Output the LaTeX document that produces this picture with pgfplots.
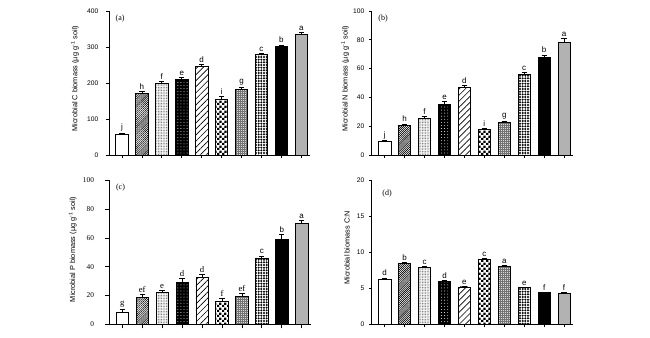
\documentclass[border=0pt]{standalone}
\usepackage{pgfplots}
\pgfplotsset{compat=1.18}
\usepackage{pgfplotstable}
\usepackage{fontspec}
\setmainfont{Liberation Sans}
\newfontfamily\tnr{Liberation Serif}
\usetikzlibrary{patterns,patterns.meta}

\pgfdeclarepattern{name=fcheck, type=uncolored, bottom left={\pgfpoint{0pt}{0pt}}, top right={\pgfpoint{3.8pt}{3.8pt}}, tile size={\pgfpoint{3.8pt}{3.8pt}},
 code={\pgfpathrectangle{\pgfpointorigin}{\pgfpoint{1.9pt}{1.9pt}}\pgfpathrectangle{\pgfpoint{1.9pt}{1.9pt}}{\pgfpoint{1.9pt}{1.9pt}}\pgfusepath{fill}}}

\tikzset{
 sA/.style={draw=black,fill=white},
 sB/.style={draw=black,pattern={Lines[angle=45,distance=1.1pt,line width=0.45pt]}},
 sC/.style={draw=black,pattern={Dots[distance=1.2pt,radius=0.38pt]},pattern color=gray!90!black},
 sD/.style={draw=black,fill=black,postaction={pattern={Dots[distance=2.3pt,radius=0.35pt]},pattern color=white}},
 sE/.style={draw=black,pattern={Lines[angle=45,distance=3.2pt,line width=0.5pt]}},
 sF/.style={draw=black,pattern=fcheck},
 sG/.style={draw=black,fill=gray!30,postaction={pattern={Hatch[distance=1.5pt,line width=0.3pt]},pattern color=gray!90!black}},
 sH/.style={draw=black,pattern={Dots[distance=2pt,radius=0.82pt]}},
 sI/.style={draw=black,fill=black},
 sJ/.style={draw=black,fill=gray!60},
}

\pgfplotsset{
 panel/.style={scale only axis, width=151pt, height=108pt,
  axis lines*=left, xmin=-0.65, xmax=9.45, ymin=0,
  xtick={0,...,9}, xticklabels={}, tick align=outside, major tick length=2pt,
  ybar, bar width=0.62, bar shift=0pt,
  error bars/y dir=plus, error bars/y explicit,
  error bars/error mark options={rotate=90,mark size=2pt,line width=0.5pt},
  error bars/error bar style={line width=0.5pt},
  tick label style={font=\fontsize{5}{6}\selectfont},
  label style={font=\fontsize{5.5}{6.5}\selectfont},
  axis line style={line width=0.6pt},
  every tick/.style={black,line width=0.5pt},
  every axis plot/.append style={line width=0.5pt},
  clip=false, /pgf/number format/assume math mode=true,
  ylabel style={anchor=center},
 },
 lab/.style={sharp plot, draw=none, mark=none, nodes near coords, point meta=explicit symbolic,
   nodes near coords style={font=\fontsize{6}{7}\selectfont, anchor=south, inner sep=1.2pt}},
}
\newcommand\bb[4]{\addplot[#1] coordinates {(#2,#3) +- (0,#4)};}

\pgfplotstableread{
x y e l
0 57 3 j
1 171 5 h
2 199 6 f
3 209 6 e
4 245 6 d
5 155 8 i
6 183 6 g
7 279 4 c
8 301 5 b
9 336 4 a
}\tA
\pgfplotstableread{
x y e l
0 9.4 0.6 j
1 20.6 1 h
2 25.6 1.5 f
3 35.3 2 e
4 47 1.3 d
5 17.6 1 i
6 22.6 1 g
7 56 1.5 c
8 67.5 2 b
9 78.3 2.5 a
}\tB
\pgfplotstableread{
x y e l
0 8.6 1.6 g
1 18.8 2 ef
2 22.3 1 e
3 29.2 2.5 d
4 32.7 2 d
5 15.8 2 f
6 19.3 2.2 ef
7 45.7 1.8 c
8 59.2 3 b
9 69.8 2.5 a
}\tC
\pgfplotstableread{
x y e l
0 6.2 0.25 d
1 8.45 0.15 b
2 7.9 0.2 c
3 5.96 0.15 d
4 5.2 0.1 e
5 9.0 0.1 c
6 8.0 0.15 a
7 5.08 0.1 e
8 4.39 0.05 f
9 4.3 0.1 f
}\tD

\begin{document}
\begin{tikzpicture}
\path[use as bounding box] (0,0) rectangle (487.5pt,252.75pt);

% (a)
\begin{axis}[panel, at={(81.75pt,136.5pt)}, anchor=south west, ymax=400, ytick={0,100,...,400},
  yticklabel style={xshift=-2.5pt},
  ylabel={Microbial C biomass (µg g\textsuperscript{-1} soil)},
  ylabel style={at={(axis description cs:-0.169,0.53)}}]
\bb{sA}{0}{57}{3}
\bb{sB}{1}{171}{5}
\bb{sC}{2}{199}{6}
\bb{sD}{3}{209}{6}
\bb{sE}{4}{245}{6}
\bb{sF}{5}{155}{8}
\bb{sG}{6}{183}{6}
\bb{sH}{7}{279}{4}
\bb{sI}{8}{301}{5}
\bb{sJ}{9}{336}{4}
\addplot[lab] table[x=x, y expr=\thisrow{y}+\thisrow{e}, meta=l] {\tA};
\node[anchor=west, font=\tnr\fontsize{6}{7}\selectfont] at (rel axis cs:0.01,0.95) {(a)};
\end{axis}

% (b)
\begin{axis}[panel, at={(278.8pt,136.5pt)}, anchor=south west, ymax=100, ytick={0,20,...,100},
  ylabel={Microbial N biomass (µg g\textsuperscript{-1} soil)},
  ylabel style={at={(axis description cs:-0.132,0.53)}}]
\bb{sA}{0}{9.4}{0.6}
\bb{sB}{1}{20.6}{1}
\bb{sC}{2}{25.6}{1.5}
\bb{sD}{3}{35.3}{2}
\bb{sE}{4}{47}{1.3}
\bb{sF}{5}{17.6}{1}
\bb{sG}{6}{22.6}{1}
\bb{sH}{7}{56}{1.5}
\bb{sI}{8}{67.5}{2}
\bb{sJ}{9}{78.3}{2.5}
\addplot[lab] table[x=x, y expr=\thisrow{y}+\thisrow{e}, meta=l] {\tB};
\node[anchor=west, font=\tnr\fontsize{6}{7}\selectfont] at (rel axis cs:0.01,0.95) {(b)};
\end{axis}

% (c)
\begin{axis}[panel, at={(82pt,9.5pt)}, anchor=south west, ymax=100, ytick={0,20,...,100},
  yticklabel style={font=\tnr\fontsize{5.5}{6}\selectfont, xshift=-5pt},
  major tick length=3pt,
  ylabel={Microbial P biomass (µg g\textsuperscript{-1} soil)},
  ylabel style={at={(axis description cs:-0.182,0.52)}}]
\bb{sA}{0}{8.6}{1.6}
\bb{sB}{1}{18.8}{2}
\bb{sC}{2}{22.3}{1}
\bb{sD}{3}{29.2}{2.5}
\bb{sE}{4}{32.7}{2}
\bb{sF}{5}{15.8}{2}
\bb{sG}{6}{19.3}{2.2}
\bb{sH}{7}{45.7}{1.8}
\bb{sI}{8}{59.2}{3}
\bb{sJ}{9}{69.8}{2.5}
\addplot[lab, restrict x to domain=0:6, nodes near coords style={font=\tnr\fontsize{6.5}{7}\selectfont}] table[x=x, y expr=\thisrow{y}+\thisrow{e}, meta=l] {\tC};
\addplot[lab, restrict x to domain=7:9] table[x=x, y expr=\thisrow{y}+\thisrow{e}, meta=l] {\tC};
\node[anchor=west, font=\tnr\fontsize{6}{7}\selectfont] at (rel axis cs:0.01,0.95) {(c)};
\end{axis}

% (d)
\begin{axis}[panel, at={(278.8pt,9.5pt)}, anchor=south west, ymax=20, ytick={0,5,...,20},
  ylabel={Microbial biomass C:N},
  ylabel style={at={(axis description cs:-0.123,0.53)}}]
\bb{sA}{0}{6.2}{0.25}
\bb{sB}{1}{8.45}{0.15}
\bb{sC}{2}{7.9}{0.2}
\bb{sD}{3}{5.96}{0.15}
\bb{sE}{4}{5.2}{0.1}
\bb{sF}{5}{9.0}{0.1}
\bb{sG}{6}{8.0}{0.15}
\bb{sH}{7}{5.08}{0.1}
\bb{sI}{8}{4.39}{0.05}
\bb{sJ}{9}{4.3}{0.1}
\addplot[lab] table[x=x, y expr=\thisrow{y}+\thisrow{e}, meta=l] {\tD};
\node[anchor=west, font=\tnr\fontsize{6}{7}\selectfont] at (rel axis cs:0.03,0.91) {(d)};
\end{axis}
\end{tikzpicture}
\end{document}
